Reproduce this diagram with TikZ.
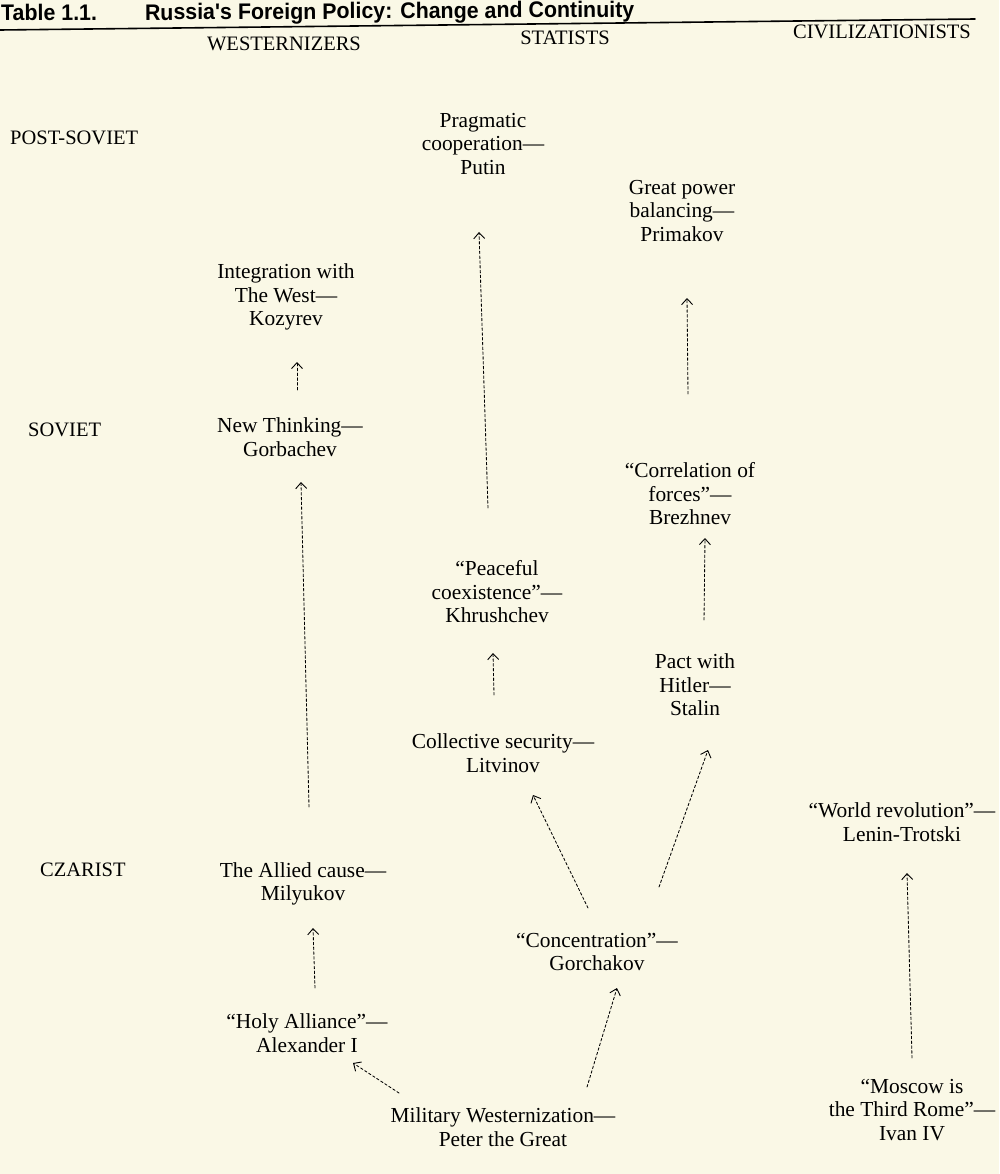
\documentclass[tikz,border=0pt]{standalone}
\usepackage{fontspec}
\setmainfont{Liberation Serif}
\newfontfamily\titlefont[FakeStretch=0.95]{Liberation Sans}
\usetikzlibrary{arrows.meta}
\definecolor{paper}{RGB}{250,248,230}
\tikzset{
    entry/.style={align=center,inner sep=1pt,font=\fontsize{21.4}{23.5}\selectfont},
    era/.style={anchor=west,inner sep=0pt,font=\fontsize{20.5}{23}\selectfont},
    school/.style={inner sep=0pt,font=\fontsize{20.5}{23}\selectfont},
    flow/.style={line width=.85pt,dash pattern=on 2.6pt off 2.2pt,-{Straight Barb[length=6pt,width=11pt,line width=.9pt]}}
}
\begin{document}
\begin{tikzpicture}[x=1pt,y=-1pt,line cap=round,line join=round]
    \fill[paper](0,0)rectangle(999,1174);
    \useasboundingbox(0,0)rectangle(999,1174);
    % title and header
    \node[anchor=base west,inner sep=0pt,rotate=0.35,font=\titlefont\bfseries\fontsize{22.5}{24}\selectfont](title)at(1,21){Table 1.1.\hspace{48pt}Russia's Foreign Policy: Change and Continuity};
    \draw[line width=1.6pt](0,30)--(975,19);
    \foreach \n/\x/\y/\t in{west/284/44/WESTERNIZERS,stat/565/38/STATISTS,civ/882/32/CIVILIZATIONISTS}
        \node[school](\n)at(\x,\y){\t};
    \foreach \n/\x/\y/\t in{post/10/138/POST-SOVIET,sov/28/430/SOVIET,czar/40/870/CZARIST}
        \node[era](\n)at(\x,\y){\t};
    % policies
    \foreach \n/\x/\y/\t in{
        putin/483/144/{Pragmatic\\cooperation---\\Putin},
        primakov/682/211/{Great power\\balancing---\\Primakov},
        kozyrev/286/297/{Integration with\\The West---\\Kozyrev},
        gorbachev/290/437/{New Thinking---\\Gorbachev},
        brezhnev/690/494/{``Correlation of\\forces''---\\Brezhnev},
        khrushchev/497/592/{``Peaceful\\coexistence''---\\Khrushchev},
        stalin/695/685/{Pact with\\Hitler---\\Stalin},
        litvinov/503/753/{Collective security---\\Litvinov},
        lenin/902/822/{``World revolution''---\\Lenin-Trotski},
        milyukov/303/884/{The Allied cause---\\Milyukov},
        gorchakov/597/952/{``Concentration''---\\Gorchakov},
        alexander/307/1033/{``Holy Alliance''---\\Alexander I},
        peter/503/1127/{Military Westernization---\\Peter the Great},
        ivan/912/1110/{``Moscow is\\the Third Rome''---\\Ivan IV}}
        \node[entry](\n)at(\x,\y){\t};
    % continuity arrows, offsets from the node centres
    \foreach \a/\ax/\ay/\b/\bx/\by in{
        khrushchev/-9/84/putin/-4/-88,
        brezhnev/-2/100/primakov/5/-87,
        gorbachev/7/47/kozyrev/11/-65,
        milyukov/6/77/gorbachev/11/-45,
        stalin/9/65/brezhnev/15/-44,
        litvinov/-9/58/khrushchev/-4/-61,
        gorchakov/62/65/stalin/13/-65,
        gorchakov/-9/44/litvinov/30/-42,
        ivan/0/52/lenin/5/-51,
        alexander/8/45/milyukov/10/-44,
        peter/84/40/gorchakov/20/-36,
        peter/-104/34/alexander/46/-30}
        \draw[flow]([xshift=\ax pt,yshift=\ay pt]\a.center)--([xshift=\bx pt,yshift=\by pt]\b.center);
\end{tikzpicture}
\end{document}
